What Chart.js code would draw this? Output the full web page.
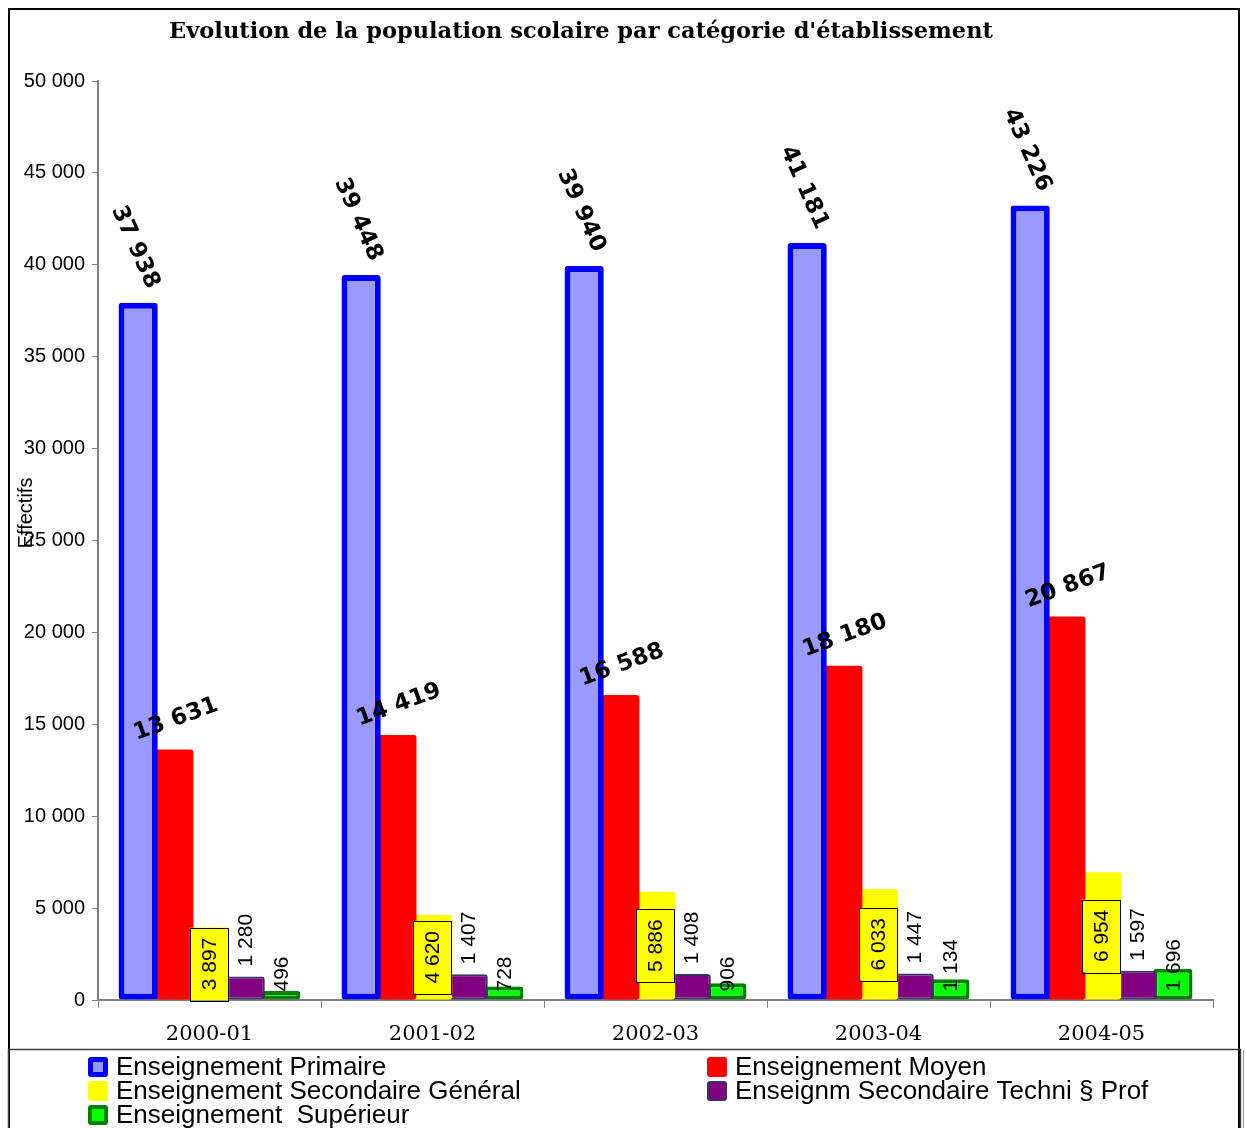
<!DOCTYPE html>
<html>
<head>
<meta charset="utf-8">
<script src="https://cdn.jsdelivr.net/npm/chart.js@4.4.1/dist/chart.umd.min.js"></script>
<style>
  html, body { margin: 0; padding: 0; background: #fff; }
  #wrap { width: 1246px; height: 1128px; }
</style>
</head>
<body>
<div id="wrap"><canvas id="chart" width="1246" height="1128"></canvas></div>
<script>
const years = ['2000-01', '2001-02', '2002-03', '2003-04', '2004-05'];
const primaire = [37938, 39448, 39940, 41181, 43226];
const moyen = [13631, 14419, 16588, 18180, 20867];
const secondaire = [3897, 4620, 5886, 6033, 6954];
const techni = [1280, 1407, 1408, 1447, 1597];
const superieur = [496, 728, 906, 1134, 1696];
const yTicks = [0, 5000, 10000, 15000, 20000, 25000, 30000, 35000, 40000, 45000, 50000];

const fmt = (n) => String(n).replace(/\B(?=(\d{3})+(?!\d))/g, ' ');

// label style per dataset
const labelStyle = ['primaire', 'moyen', 'boxed', 'above', 'base'];

const dataLabels = {
  id: 'dataLabels',
  afterDatasetsDraw(chart) {
    const ctx = chart.ctx;
    chart.data.datasets.forEach((ds, i) => {
      const meta = chart.getDatasetMeta(i);
      const style = labelStyle[i];
      meta.data.forEach((el, j) => {
        const txt = fmt(ds.data[j]);
        ctx.save();
        ctx.fillStyle = '#000';
        if (style === 'primaire') {
          ctx.font = 'bold 23px "DejaVu Sans"';
          const a = 66 * Math.PI / 180;
          const w = ctx.measureText(txt).width;
          const ext = w * Math.sin(a) + 16 * Math.cos(a);
          ctx.translate(el.x - 3, el.y - 12 - ext / 2);
          ctx.rotate(a);
          ctx.textAlign = 'center';
          ctx.textBaseline = 'middle';
          ctx.fillText(txt, 0, 0);
        } else if (style === 'moyen') {
          ctx.font = 'bold 23px "DejaVu Sans"';
          ctx.translate(el.x + 2, el.y - 30);
          ctx.rotate(-20 * Math.PI / 180);
          ctx.textAlign = 'center';
          ctx.textBaseline = 'middle';
          ctx.fillText(txt, 0, 0);
        } else if (style === 'boxed') {
          ctx.font = '21px "Liberation Sans"';
          const w = ctx.measureText(txt).width;
          const h = w + 20;
          const cy = (el.y + el.base) / 2;
          ctx.fillStyle = ds.backgroundColor;
          ctx.fillRect(el.x - el.width / 2, cy - h / 2, el.width, h);
          ctx.strokeStyle = '#000';
          ctx.lineWidth = 1;
          ctx.strokeRect(Math.round(el.x - el.width / 2) + 0.5, Math.round(cy - h / 2) + 0.5, Math.round(el.width) - 1, Math.round(h));
          ctx.fillStyle = '#000';
          ctx.translate(el.x, cy);
          ctx.rotate(-Math.PI / 2);
          ctx.textAlign = 'center';
          ctx.textBaseline = 'middle';
          ctx.fillText(txt, 0, 1);
        } else {
          ctx.font = '21px "Liberation Sans"';
          const y0 = style === 'above' ? el.y - 10 : el.base - 8;
          ctx.translate(el.x, y0);
          ctx.rotate(-Math.PI / 2);
          ctx.textAlign = 'left';
          ctx.textBaseline = 'middle';
          ctx.fillText(txt, 0, 1);
        }
        ctx.restore();
      });
    });
  }
};

const frame = {
  id: 'frame',
  beforeDraw(chart) {
    const ctx = chart.ctx;
    ctx.save();
    ctx.fillStyle = '#fff';
    ctx.fillRect(0, 0, chart.width, chart.height);
    ctx.restore();
  },
  afterDraw(chart) {
    const ctx = chart.ctx;
    ctx.save();
    // outer frame
    ctx.strokeStyle = '#000';
    ctx.lineWidth = 2;
    ctx.strokeRect(9, 9, 1230, 1140);
    // legend box
    ctx.strokeStyle = '#404040';
    ctx.lineWidth = 1.5;
    ctx.strokeRect(8.5, 1049.5, 1232, 100);
    ctx.strokeStyle = '#999';
    ctx.lineWidth = 1;
    ctx.beginPath();
    ctx.moveTo(1243.5, 1050);
    ctx.lineTo(1243.5, 1128);
    ctx.stroke();

    // title
    ctx.fillStyle = '#000';
    ctx.font = 'bold 22.5px "DejaVu Serif"';
    ctx.textAlign = 'center';
    ctx.textBaseline = 'middle';
    ctx.fillText("Evolution de la population scolaire par catégorie d'établissement", 581, 32);

    // y axis title
    ctx.save();
    ctx.font = '20px "Liberation Sans"';
    ctx.translate(26, 513);
    ctx.rotate(-Math.PI / 2);
    ctx.fillText('Effectifs', 0, 0);
    ctx.restore();

    // legend, two columns
    ctx.font = '26px "Liberation Sans"';
    ctx.textAlign = 'left';
    chart.data.datasets.forEach((ds, i) => {
      const col = i % 2, row = Math.floor(i / 2);
      const x = col === 0 ? 88 : 707;
      const y = 1067 + row * 24;
      const s = 20;
      ctx.beginPath();
      ctx.roundRect(x, y - s / 2, s, s, 3);
      ctx.fillStyle = ds.borderWidth ? ds.borderColor : ds.backgroundColor;
      ctx.fill();
      if (ds.borderWidth) {
        const b = Math.min(ds.borderWidth, 5);
        ctx.fillStyle = ds.backgroundColor;
        ctx.fillRect(x + b, y - s / 2 + b, s - 2 * b, s - 2 * b);
      }
      ctx.fillStyle = '#000';
      ctx.textBaseline = 'middle';
      ctx.fillText(ds.label, x + 28, y + 1);
    });
    ctx.restore();
  }
};

new Chart(document.getElementById('chart'), {
  type: 'bar',
  data: {
    labels: years,
    datasets: [
      { label: 'Enseignement Primaire', data: primaire, backgroundColor: '#9999FF', borderColor: '#0000FF', borderWidth: 6 },
      { label: 'Enseignement Moyen', data: moyen, backgroundColor: '#FF0000', borderWidth: 0 },
      { label: 'Enseignement Secondaire Général', data: secondaire, backgroundColor: '#FFFF00', borderWidth: 0 },
      { label: 'Enseignm Secondaire Techni § Prof', data: techni, backgroundColor: '#800080', borderColor: '#333366', borderWidth: 2 },
      { label: 'Enseignement  Supérieur', data: superieur, backgroundColor: '#00FF00', borderColor: '#008000', borderWidth: 4 },
    ],
  },
  options: {
    responsive: false,
    animation: false,
    devicePixelRatio: 1,
    datasets: {
      bar: {
        categoryPercentage: 0.8,
        barPercentage: 1.1,
        borderRadius: 3,
        borderSkipped: false,
      },
    },
    layout: { padding: { left: 0, right: 33, top: 81, bottom: 80 } },
    plugins: {
      legend: { display: false },
      title: { display: false },
      tooltip: { enabled: false },
    },
    scales: {
      x: {
        grid: { display: true, drawOnChartArea: false, offset: true, tickLength: 8, color: '#808080' },
        border: { color: '#808080', width: 2 },
        ticks: { color: '#000', font: { family: 'DejaVu Serif', size: 21 }, padding: 14 },
        afterFit: (scale) => { scale.height = 48; },
      },
      y: {
        min: 0,
        max: 50000,
        afterBuildTicks: (scale) => { scale.ticks = yTicks.map((v) => ({ value: v })); },
        grid: { display: true, drawOnChartArea: false, tickLength: 6, color: '#808080' },
        border: { color: '#808080', width: 2 },
        ticks: { color: '#000', font: { family: 'Liberation Sans', size: 20 }, padding: 7, callback: (v) => fmt(v) },
        afterFit: (scale) => { scale.width = 98; },
      },
    },
  },
  plugins: [frame, dataLabels],
});
</script>
</body>
</html>
